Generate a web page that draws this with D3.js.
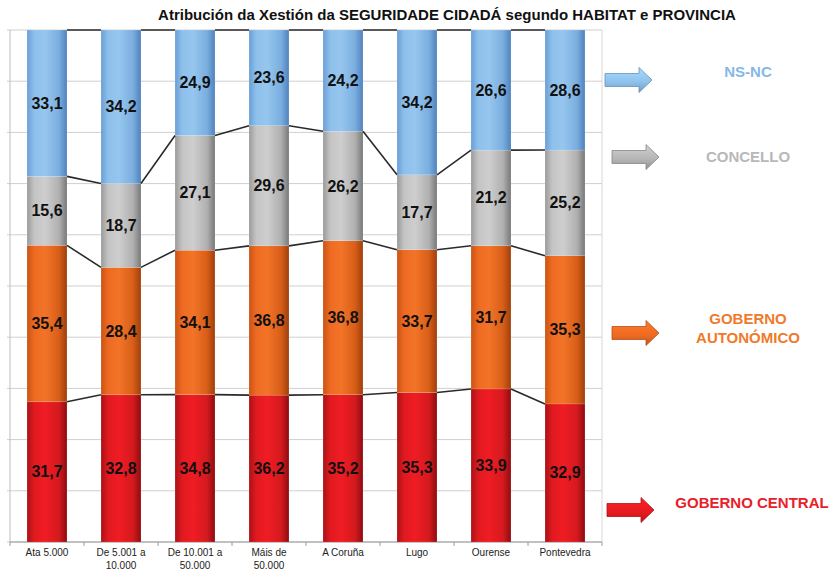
<!DOCTYPE html>
<html><head><meta charset="utf-8">
<script src="https://cdn.jsdelivr.net/npm/d3@7"></script>
<style>body{margin:0;background:#fff}svg{display:block}</style>
</head><body><svg id="c" width="831" height="573"></svg>
<script>
const categories = [["Ata 5.000"],["De 5.001 a","10.000"],["De 10.001 a","50.000"],["Máis de","50.000"],["A Coruña"],["Lugo"],["Ourense"],["Pontevedra"]];
const seriesNames = ["GOBERNO CENTRAL","GOBERNO AUTONÓMICO","CONCELLO","NS-NC"];
const central = [31.7,32.8,34.8,36.2,35.2,35.3,33.9,32.9];
const autonomico = [35.4,28.4,34.1,36.8,36.8,33.7,31.7,35.3];
const concello = [15.6,18.7,27.1,29.6,26.2,17.7,21.2,25.2];
const nsnc = [33.1,34.2,24.9,23.6,24.2,34.2,26.6,28.6];
const title = "Atribución da Xestión da SEGURIDADE CIDADÁ segundo HABITAT e PROVINCIA";

const keys = ["central","autonomico","concello","nsnc"];
const rows = categories.map((c,i)=>({i, central:central[i], autonomico:autonomico[i], concello:concello[i], nsnc:nsnc[i]}));
const stacked = d3.stack().keys(keys).offset(d3.stackOffsetExpand)(rows);

const svg = d3.select("#c");
const L=10,R=602,T=30,B=542;
const x = d3.scaleBand().domain(d3.range(categories.length)).range([L,R]).paddingInner(0.46).paddingOuter(0.23);
const y = d3.scaleLinear().domain([0,1]).range([B,T]);

const defs = svg.append("defs");
const grads = {
  central:[["0%","#a81216"],["18%","#e01a20"],["45%","#f01c24"],["80%","#d41a1e"],["100%","#8e0c10"]],
  autonomico:[["0%","#c85414"],["18%","#ee6a22"],["45%","#f27428"],["80%","#d85e18"],["100%","#9e400c"]],
  concello:[["0%","#9a9a9a"],["18%","#c4c4c4"],["45%","#cecece"],["80%","#b0b0b0"],["100%","#787878"]],
  nsnc:[["0%","#6a9ed6"],["18%","#8ec0ec"],["45%","#96c6ee"],["80%","#7aaedf"],["100%","#4f82bc"]]
};
Object.entries(grads).forEach(([k,stops])=>{
  const g=defs.append("linearGradient").attr("id","g_"+k).attr("x1","0").attr("x2","1").attr("y1","0").attr("y2","0");
  stops.forEach(s=>g.append("stop").attr("offset",s[0]).attr("stop-color",s[1]));
});
const arrowCol = {central:"#e41c20",autonomico:"#ee6a22",concello:"#b4b4b4",nsnc:"#8ec0ec"};
Object.entries(arrowCol).forEach(([k,c])=>{
  const g=defs.append("linearGradient").attr("id","a_"+k).attr("x1","0").attr("x2","0").attr("y1","0").attr("y2","1");
  g.append("stop").attr("offset","0%").attr("stop-color",d3.color(c).brighter(0.4));
  g.append("stop").attr("offset","60%").attr("stop-color",c);
  g.append("stop").attr("offset","100%").attr("stop-color",d3.color(c).darker(0.6));
});

// grid
svg.append("g").selectAll("line").data(d3.range(0,1.0001,0.1)).join("line")
  .attr("x1",L-3).attr("x2",R).attr("y1",d=>y(d)).attr("y2",d=>y(d))
  .attr("stroke","#cfcfcf").attr("stroke-width",1);
svg.append("line").attr("x1",L).attr("x2",L).attr("y1",T).attr("y2",B).attr("stroke","#bdbdbd");
svg.append("line").attr("x1",R).attr("x2",R).attr("y1",T).attr("y2",B).attr("stroke","#d8d8d8");
// x axis
svg.append("line").attr("x1",L).attr("x2",R).attr("y1",B).attr("y2",B).attr("stroke","#9a9a9a");
svg.append("g").selectAll("line").data(d3.range(categories.length+1)).join("line")
  .attr("x1",d=>L+d*(R-L)/categories.length).attr("x2",d=>L+d*(R-L)/categories.length)
  .attr("y1",B).attr("y2",B+4).attr("stroke","#9a9a9a");

// bars
const bw = x.bandwidth();
stacked.forEach(s=>{
  const g = svg.append("g");
  g.selectAll("rect").data(s).join("rect")
    .attr("x",(d,i)=>x(i)).attr("width",bw)
    .attr("y",d=>y(d[1])).attr("height",d=>y(d[0])-y(d[1]))
    .attr("fill","url(#g_"+s.key+")").attr("stroke","#ffffff").attr("stroke-opacity",0.25).attr("stroke-width",0.5);
});
// series lines
stacked.forEach(s=>{
  const g = svg.append("g");
  for(let i=0;i<s.length-1;i++){
    g.append("line").attr("x1",x(i)+bw).attr("x2",x(i+1))
      .attr("y1",y(s[i][1])).attr("y2",y(s[i+1][1]))
      .attr("stroke","#2a2a2a").attr("stroke-width",1.6);
  }
});
// labels
stacked.forEach(s=>{
  const src = {central,autonomico,concello,nsnc}[s.key];
  svg.append("g").selectAll("text").data(s).join("text")
    .attr("x",(d,i)=>x(i)+bw/2).attr("y",d=>(y(d[0])+y(d[1]))/2+5.5)
    .attr("text-anchor","middle").attr("font-family","Liberation Sans, Arial, sans-serif")
    .attr("font-weight","bold").attr("font-size",16).attr("fill","#111")
    .text((d,i)=>src[i].toFixed(1).replace(".",","));
});
// category labels
categories.forEach((c,i)=>{
  const cx = L+(i+0.5)*(R-L)/categories.length;
  const t = svg.append("text").attr("x",cx).attr("y",556)
    .attr("text-anchor","middle").attr("font-family","Liberation Sans, Arial, sans-serif")
    .attr("font-size",10).attr("fill","#222");
  c.forEach((line,j)=>t.append("tspan").attr("x",cx).attr("dy",j?13:0).text(line));
});
// title
svg.append("text").attr("x",447).attr("y",20).attr("text-anchor","middle")
  .attr("font-family","Liberation Sans, Arial, sans-serif").attr("font-weight","bold")
  .attr("font-size",15).attr("fill","#111").text(title);

// legend
const legend = [
  {k:"nsnc",ax:605,ay:80,lines:["NS-NC"],lx:748,ly:77,col:"#84b8e6"},
  {k:"concello",ax:612,ay:157,lines:["CONCELLO"],lx:748,ly:162,col:"#b8b8b8"},
  {k:"autonomico",ax:612,ay:333,lines:["GOBERNO","AUTONÓMICO"],lx:748,ly:324,col:"#f07a2a"},
  {k:"central",ax:607,ay:510,lines:["GOBERNO CENTRAL"],lx:752,ly:508,col:"#e8202a"}
];
legend.forEach(l=>{
  const w=47,h=13,hh=25,hw=13;
  const p = `M${l.ax},${l.ay-h/2} L${l.ax+w-hw},${l.ay-h/2} L${l.ax+w-hw},${l.ay-hh/2} L${l.ax+w},${l.ay} L${l.ax+w-hw},${l.ay+hh/2} L${l.ax+w-hw},${l.ay+h/2} L${l.ax},${l.ay+h/2} Z`;
  svg.append("path").attr("d",p).attr("fill","url(#a_"+l.k+")").attr("stroke",d3.color(arrowCol[l.k]).darker(0.8)).attr("stroke-width",0.8);
  const t = svg.append("text").attr("x",l.lx).attr("y",l.ly).attr("text-anchor","middle")
    .attr("font-family","Liberation Sans, Arial, sans-serif").attr("font-weight","bold").attr("font-size",15).attr("fill",l.col);
  l.lines.forEach((s,j)=>t.append("tspan").attr("x",l.lx).attr("dy",j?19:0).text(s));
});
</script></body></html>
